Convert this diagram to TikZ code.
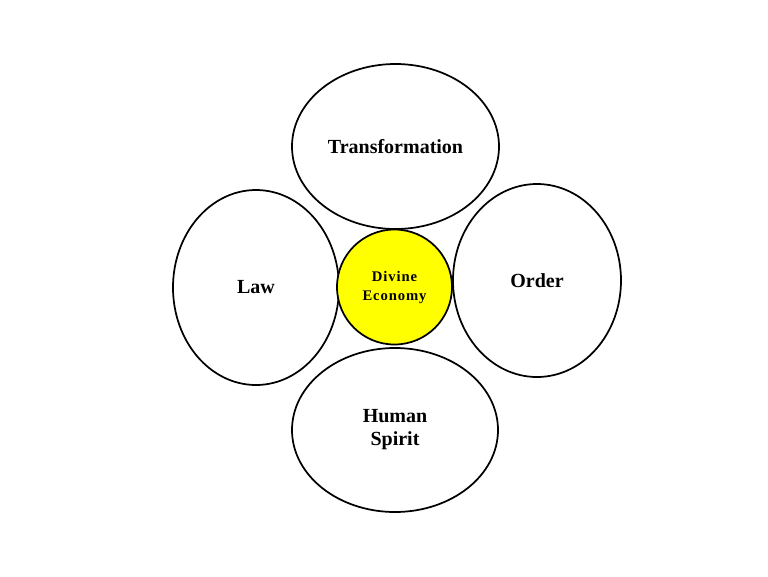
\documentclass[tikz,border=0pt]{standalone}
\usepackage{fontspec}
\setmainfont{Liberation Serif}
\newfontfamily\trackedfont[LetterSpace=6]{Liberation Serif}
\usetikzlibrary{shapes.geometric}
\definecolor{brightyellow}{RGB}{255,255,0}
\tikzset{
  petal/.style={ellipse, draw=black, fill=white, line width=1.3pt, inner sep=0pt, outer sep=0pt,
    align=center, font=\fontsize{15}{17.25}\selectfont\bfseries},
  hub/.style={circle, draw=black, fill=brightyellow, line width=1.3pt, inner sep=0pt, outer sep=0pt,
    minimum size=86.25pt, align=center, font=\fontsize{11}{14.25}\selectfont\trackedfont\bfseries}
}
\begin{document}
\begin{tikzpicture}[x=0.75pt,y=-0.75pt]
\useasboundingbox (0,0) rectangle (768,576);
\node[petal, minimum width=155.25pt, minimum height=123.75pt] (trans) at (395.5,146.5) {Transformation};
\node[petal, minimum width=124.5pt, minimum height=146.25pt] (law) at (256,287.5) {Law};
\node[petal, minimum width=126pt, minimum height=144.75pt] (order) at (537,280.5) {Order};
\node[petal, minimum width=154.5pt, minimum height=123pt] (human) at (395,430) {Human\\Spirit};
\node[hub] (divine) at (394.5,287) {Divine\\Economy};
\end{tikzpicture}
\end{document}
